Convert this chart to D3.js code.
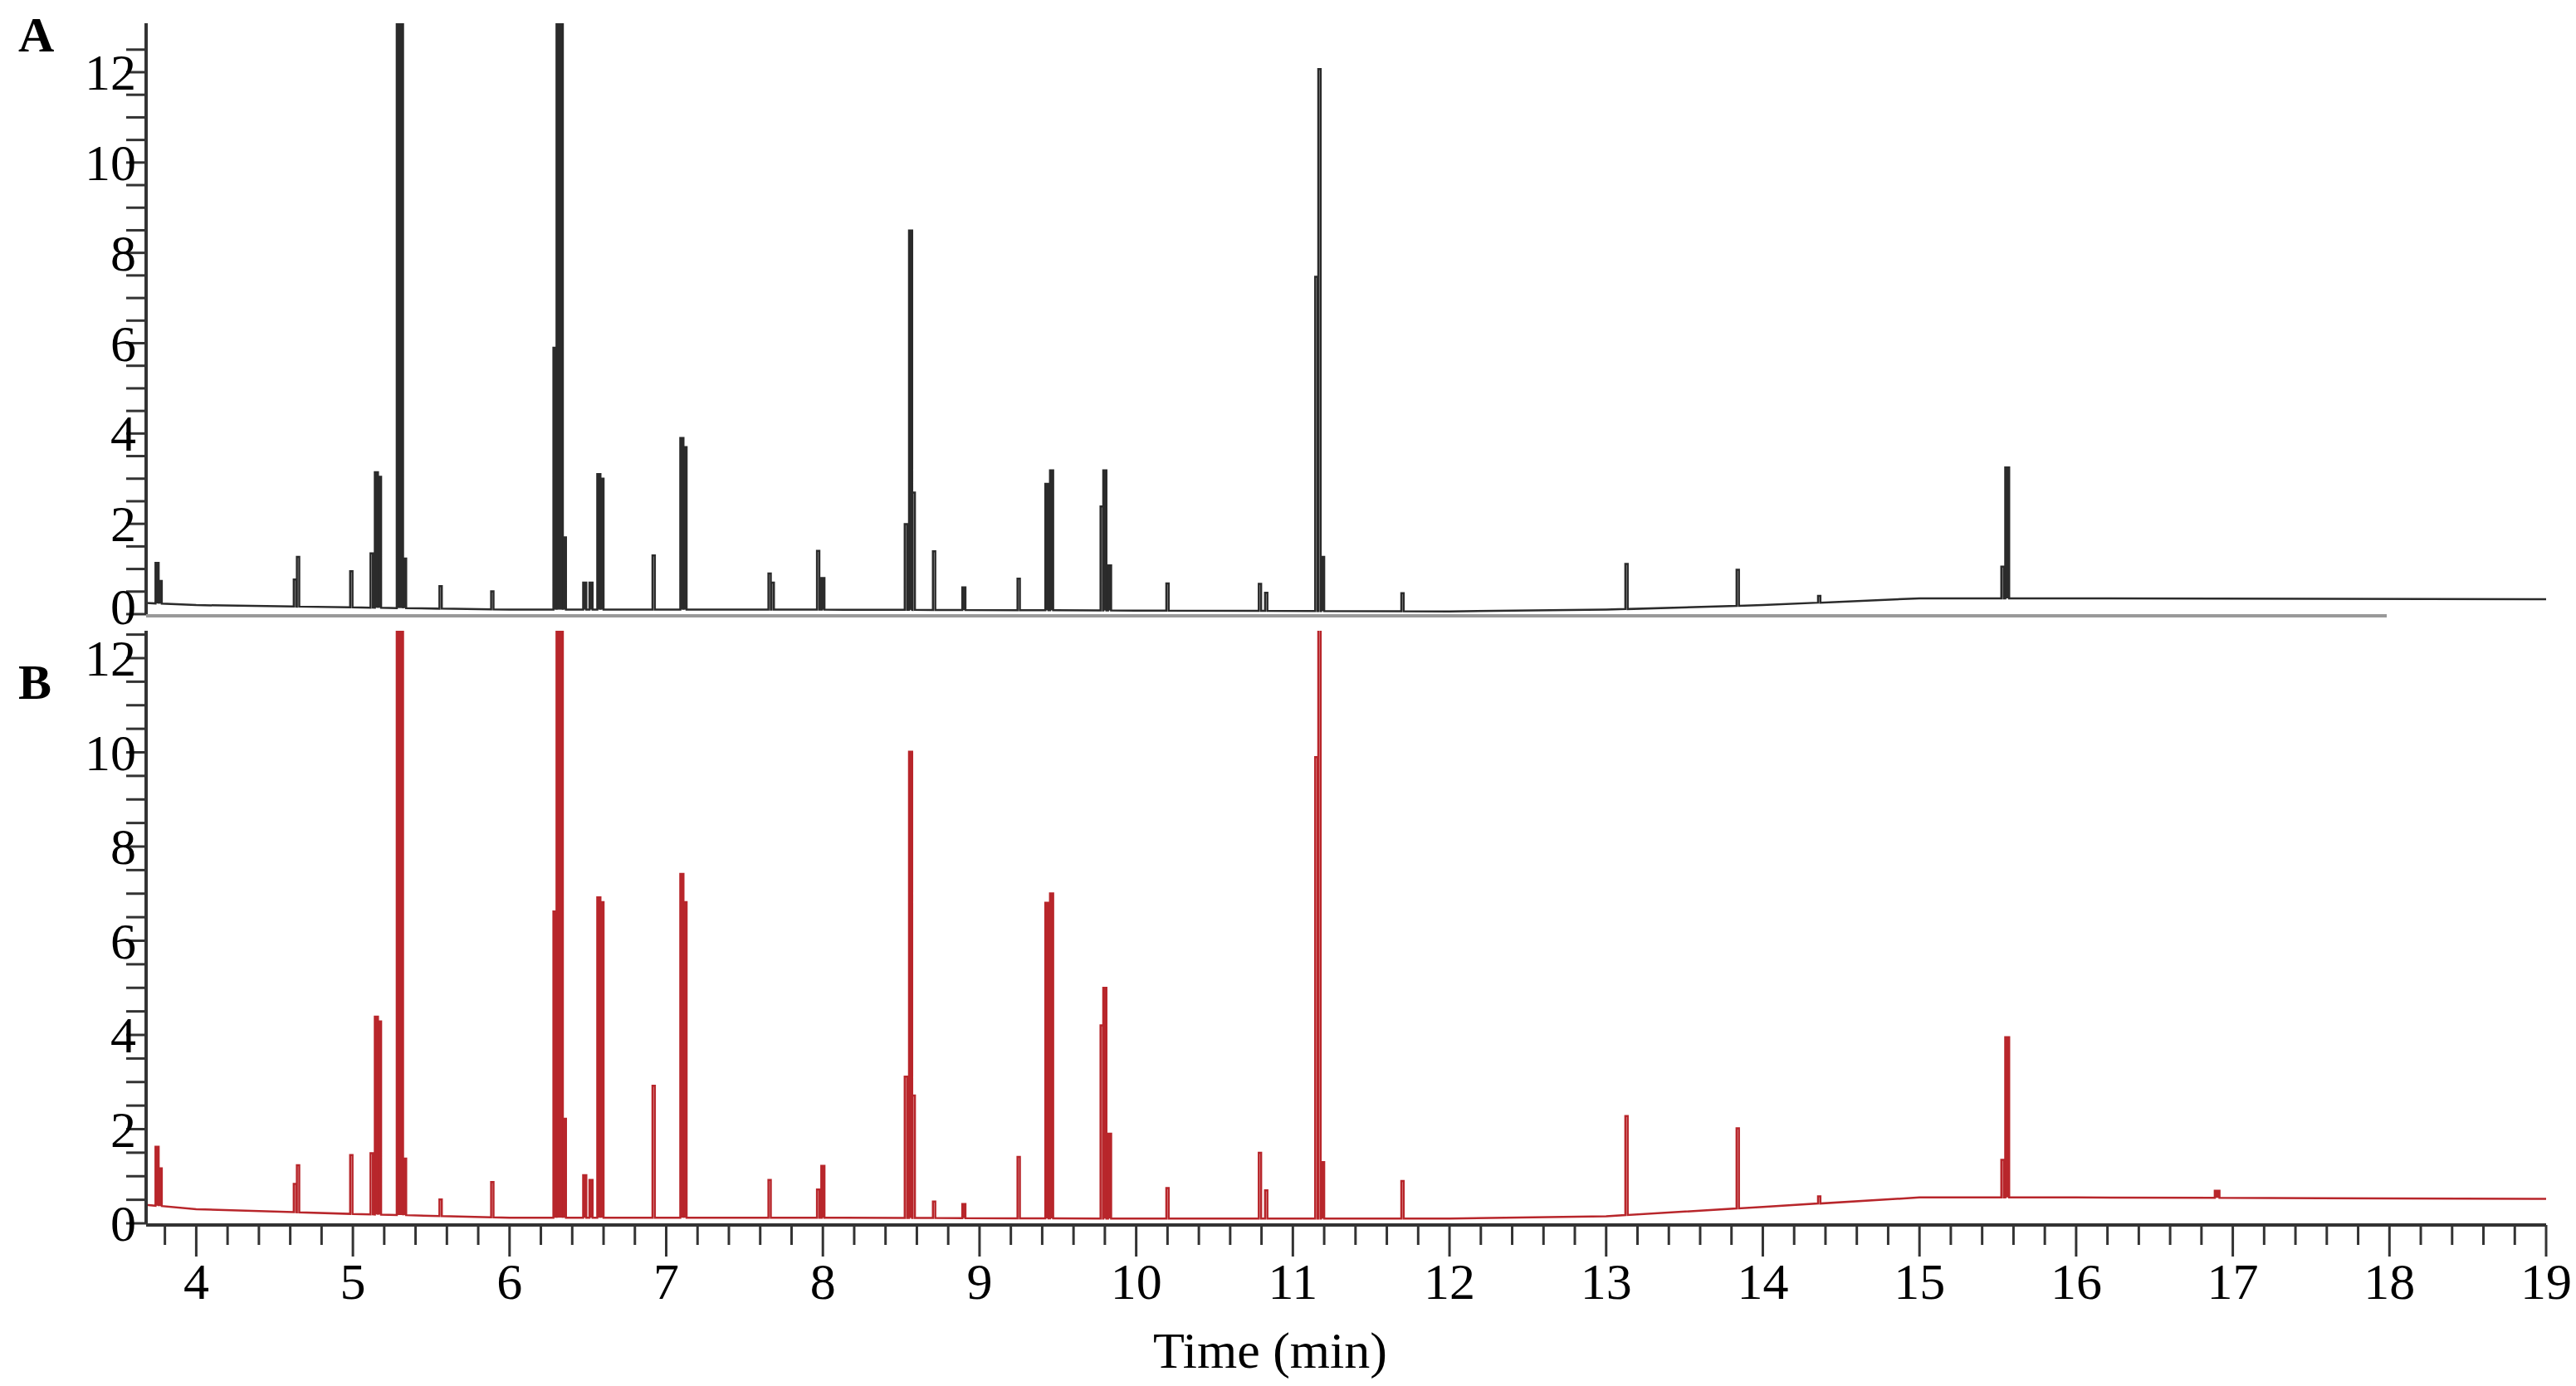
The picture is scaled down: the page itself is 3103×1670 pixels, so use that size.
<!DOCTYPE html><html><head><meta charset="utf-8">
<script src="https://cdn.jsdelivr.net/npm/d3@7"></script>
<style>body{margin:0;background:#fff}</style></head><body>
<svg id="c" width="3103" height="1670"></svg>
<script>
// Peaks: [time(min), height, width(min)]
const peaksA = [[3.75,0.9,0.02],[3.77,0.5,0.02],[4.65,1.1,0.015],[4.63,0.6,0.015],[4.99,0.8,0.015],[5.12,1.2,0.015],[5.15,3.0,0.02],[5.17,2.9,0.02],[5.3,14,0.04],[5.33,1.1,0.02],
 [5.56,0.5,0.015],[5.89,0.4,0.015],[6.29,5.8,0.02],[6.32,14,0.04],[6.35,1.6,0.02],[6.48,0.6,0.02],[6.52,0.6,0.02],[6.57,3.0,0.02],[6.59,2.9,0.02],[6.92,1.2,0.015],
 [7.1,3.8,0.02],[7.12,3.6,0.02],[7.66,0.8,0.015],[7.68,0.6,0.015],[7.97,1.3,0.015],[8.0,0.7,0.02],[8.53,1.9,0.015],[8.56,8.4,0.02],[8.58,2.6,0.015],[8.71,1.3,0.015],[8.9,0.5,0.02],
 [9.25,0.7,0.015],[9.43,2.8,0.02],[9.46,3.1,0.02],[9.78,2.3,0.015],[9.8,3.1,0.02],[9.83,1.0,0.02],[10.2,0.6,0.015],[10.79,0.6,0.015],[10.83,0.4,0.015],
 [11.15,7.4,0.015],[11.17,12.0,0.015],[11.19,1.2,0.02],[11.7,0.4,0.015],[13.13,1.0,0.015],[13.84,0.8,0.015],[14.36,0.15,0.015],[15.53,0.7,0.015],[15.56,2.9,0.025]];
const baseA = [[3.66,0.25],[4.0,0.2],[5.0,0.15],[6.0,0.1],[8.0,0.1],[10.0,0.08],[12.0,0.06],[13.0,0.1],[14.0,0.2],[15.0,0.35],[16.0,0.35],[19.0,0.33]];
const peaksB = [[3.75,1.25,0.02],[3.77,0.8,0.02],[4.65,1.0,0.015],[4.63,0.6,0.015],[4.99,1.25,0.015],[5.12,1.3,0.015],[5.15,4.2,0.02],[5.17,4.1,0.02],[5.3,14,0.04],[5.33,1.2,0.02],
 [5.56,0.35,0.015],[5.89,0.75,0.015],[6.29,6.5,0.02],[6.32,14,0.04],[6.35,2.1,0.02],[6.48,0.9,0.02],[6.52,0.8,0.02],[6.57,6.8,0.02],[6.59,6.7,0.02],[6.92,2.8,0.015],
 [7.1,7.3,0.02],[7.12,6.7,0.02],[7.66,0.8,0.015],[7.97,0.6,0.015],[8.0,1.1,0.02],[8.53,3.0,0.015],[8.56,9.9,0.02],[8.58,2.6,0.015],[8.71,0.35,0.015],[8.9,0.3,0.02],
 [9.25,1.3,0.015],[9.43,6.7,0.02],[9.46,6.9,0.02],[9.78,4.1,0.015],[9.8,4.9,0.02],[9.83,1.8,0.02],[10.2,0.65,0.015],[10.79,1.4,0.015],[10.83,0.6,0.015],
 [11.15,9.8,0.015],[11.17,14,0.015],[11.19,1.2,0.02],[11.7,0.8,0.015],[13.13,2.1,0.015],[13.84,1.7,0.015],[14.36,0.15,0.015],[15.53,0.8,0.015],[15.56,3.4,0.025],[16.9,0.15,0.03]];
const baseB = [[3.66,0.4],[4.0,0.3],[5.0,0.2],[6.0,0.12],[8.0,0.12],[10.0,0.1],[12.0,0.1],[13.0,0.15],[14.0,0.35],[15.0,0.55],[16.0,0.55],[19.0,0.52]];
const xTicks = [4,5,6,7,8,9,10,11,12,13,14,15,16,17,18,19];
const yTicks = [0,2,4,6,8,10,12];

const svg = d3.select("#c");
const x = d3.scaleLinear().domain([3.68,19]).range([176,3067]);
const FONT = "Liberation Serif, Times New Roman, serif";
const panels = [
  {peaks:peaksA, base:baseA, color:"#2b2b2b", y:d3.scaleLinear().domain([0,12]).range([740,87]), top:28, label:"A", ly:62},
  {peaks:peaksB, base:baseB, color:"#b8262b", y:d3.scaleLinear().domain([0,12]).range([1474,793]), top:760, label:"B", ly:842}
];
function baseAt(base,t){for(let i=1;i<base.length;i++){if(t<=base[i][0]){const a=base[i-1],b=base[i];return a[1]+(b[1]-a[1])*(t-a[0])/(b[0]-a[0]);}}return base[base.length-1][1];}

panels.forEach((p,i)=>{
  const g = svg.append("g");
  const id="clip"+i;
  svg.append("clipPath").attr("id",id).append("rect").attr("x",176).attr("y",p.top).attr("width",2900).attr("height",p.y(0)-p.top+5);
  const sorted=[...p.peaks].sort((a,b)=>a[0]-b[0]);
  let items=[];
  p.base.forEach(b=>items.push({t:b[0],type:"b"}));
  sorted.forEach(pk=>items.push({t:pk[0],type:"p",pk}));
  items.sort((a,b)=>a.t-b.t);
  const pts=[];
  items.forEach(it=>{
    if(it.type==="b"){pts.push([it.t,baseAt(p.base,it.t)]);}
    else{const [t,h,w]=it.pk;const b0=baseAt(p.base,t);
      pts.push([t-w/2,b0]);pts.push([t-w/2,b0+h]);pts.push([t+w/2,b0+h]);pts.push([t+w/2,b0]);}
  });
  const line=d3.line().x(d=>x(d[0])).y(d=>p.y(d[1]));
  g.append("path").attr("d",line(pts)).attr("fill","none")
    .attr("stroke",p.color).attr("stroke-width",2.5).attr("clip-path",`url(#${id})`);
  g.selectAll(".pk").data(p.peaks.filter(d=>d[2]>=0.02)).join("rect")
    .attr("x",d=>x(d[0]-d[2]/2)).attr("width",d=>x(d[0]+d[2]/2)-x(d[0]-d[2]/2))
    .attr("y",d=>Math.max(p.top,p.y(baseAt(p.base,d[0])+d[1]))).attr("height",d=>p.y(baseAt(p.base,d[0]))-Math.max(p.top,p.y(baseAt(p.base,d[0])+d[1])))
    .attr("fill",p.color);
  const ya=g.append("g");
  ya.append("line").attr("x1",176).attr("x2",176).attr("y1",p.top).attr("y2",p.y(0)).attr("stroke","#333").attr("stroke-width",4);
  const minor=d3.range(0,12.6,0.5);
  ya.selectAll(".t").data(minor).join("line").attr("x1",152).attr("x2",176)
    .attr("y1",d=>p.y(d)).attr("y2",d=>p.y(d)).attr("stroke","#333").attr("stroke-width",3);
  ya.selectAll(".l").data(yTicks).join("text").attr("x",164).attr("y",d=>p.y(d)+(d===0&&i===0?12:21))
    .attr("text-anchor","end").attr("font-family",FONT).attr("font-size",62).text(d=>d);
  g.append("text").attr("x",22).attr("y",p.ly).attr("font-family",FONT).attr("font-weight","bold").attr("font-size",60).text(p.label);
});
svg.append("line").attr("x1",176).attr("x2",2875).attr("y1",742).attr("y2",742).attr("stroke","#999").attr("stroke-width",4);
const yb=1476;
svg.append("line").attr("x1",176).attr("x2",3067).attr("y1",yb).attr("y2",yb).attr("stroke","#333").attr("stroke-width",4);
const xm=d3.range(3.8,19.001,0.2).map(v=>+v.toFixed(1));
svg.selectAll(".xt").data(xm).join("line").attr("x1",d=>x(d)).attr("x2",d=>x(d))
  .attr("y1",yb).attr("y2",d=>Number.isInteger(d)?yb+38:yb+24).attr("stroke","#333").attr("stroke-width",3);
svg.selectAll(".xl").data(xTicks).join("text").attr("x",d=>x(d)).attr("y",1565)
  .attr("text-anchor","middle").attr("font-family",FONT).attr("font-size",62).text(d=>d);
svg.append("text").attr("x",1530).attr("y",1648).attr("text-anchor","middle").attr("font-family",FONT).attr("font-size",62).text("Time (min)");
</script></body></html>
